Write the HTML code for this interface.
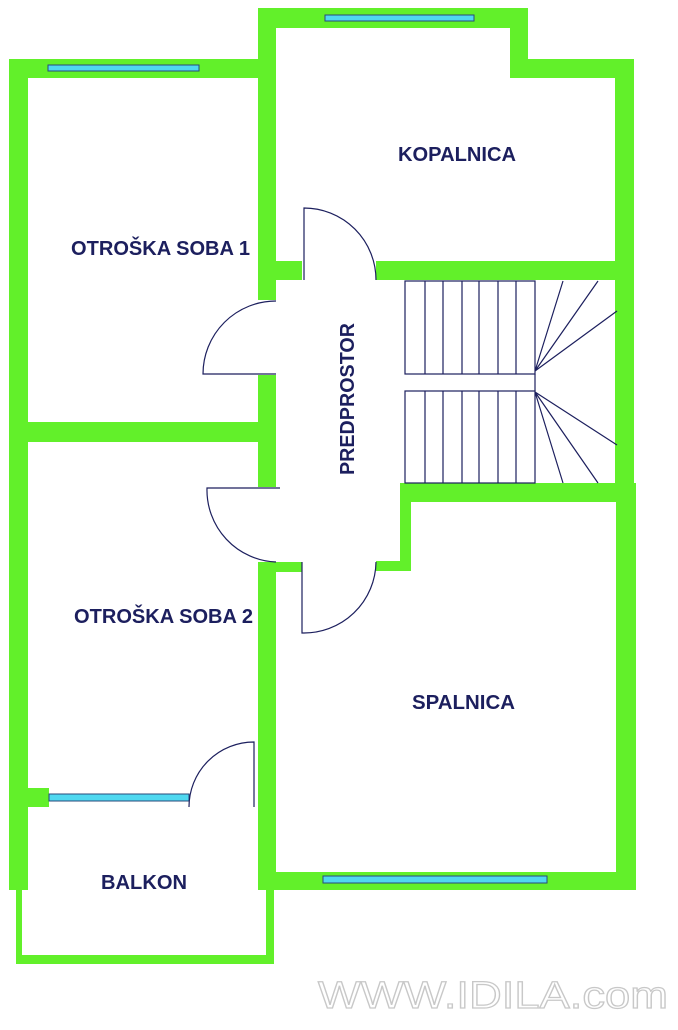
<!DOCTYPE html>
<html><head><meta charset="utf-8"><style>
html,body{margin:0;padding:0;background:#fff;}
svg{display:block;}
text{font-family:"Liberation Sans",sans-serif;font-weight:bold;fill:#1c1f5e;}
</style></head><body>
<svg width="678" height="1030" viewBox="0 0 678 1030" xmlns="http://www.w3.org/2000/svg">
<g fill="#62f02a">
<rect x="9" y="59" width="19" height="831"/>
<rect x="9" y="59" width="267" height="19"/>
<rect x="258" y="8" width="18" height="292"/>
<rect x="258" y="8" width="270" height="20"/>
<rect x="510" y="8" width="18" height="70"/>
<rect x="510" y="59" width="124" height="19"/>
<rect x="615" y="59" width="19" height="443"/>
<rect x="258" y="261" width="44" height="19"/>
<rect x="376" y="261" width="258" height="19"/>
<rect x="258" y="375" width="18" height="112"/>
<rect x="9" y="422" width="267" height="20"/>
<rect x="400" y="483" width="234" height="19"/>
<rect x="616" y="483" width="20" height="407"/>
<rect x="400" y="483" width="11" height="88"/>
<rect x="376" y="561" width="35" height="10"/>
<rect x="258" y="562" width="44" height="10"/>
<rect x="258" y="562" width="18" height="328"/>
<rect x="258" y="872" width="378" height="18"/>
<rect x="9" y="788" width="40" height="19"/>
<rect x="16" y="888" width="6" height="76"/>
<rect x="266" y="888" width="8" height="76"/>
<rect x="16" y="955" width="258" height="9"/>
</g>
<g fill="#4fd8f0" stroke="#2a4a7a" stroke-width="1">
<rect x="48" y="65" width="151" height="6"/>
<rect x="325" y="15" width="149" height="6"/>
<rect x="49" y="794" width="140" height="7"/>
<rect x="323" y="876" width="224" height="7"/>
</g>
<g fill="none" stroke="#1c1f5e" stroke-width="1.2">
<path d="M304 280 V208 A72 72 0 0 1 376 280"/>
<path d="M276 374 H203 A73 73 0 0 1 276 301"/>
<path d="M280 488 H207 A72 72 0 0 0 276 562"/>
<path d="M302 562 V633 A72 72 0 0 0 376 562"/>
<path d="M254 807 V742 A65 65 0 0 0 189 807"/>
</g>
<g fill="none" stroke="#1c1f5e" stroke-width="1.2">
<rect x="405" y="281" width="130" height="93"/>
<rect x="405" y="391" width="130" height="92"/>
<path d="M425 281V374M443 281V374M462 281V374M479 281V374M498 281V374M516 281V374"/>
<path d="M425 391V483M443 391V483M462 391V483M479 391V483M498 391V483M516 391V483"/>
<path d="M535 374V391"/>
<path d="M535 371L563 281M535 371L598 281M535 371L617 311"/>
<path d="M535 392L617 445M535 392L598 483M535 392L563 483"/>
</g>
<text x="398" y="161" font-size="20" textLength="118" lengthAdjust="spacingAndGlyphs">KOPALNICA</text>
<text x="71" y="255" font-size="20" textLength="179" lengthAdjust="spacingAndGlyphs">OTROŠKA SOBA 1</text>
<text x="74" y="623" font-size="20" textLength="179" lengthAdjust="spacingAndGlyphs">OTROŠKA SOBA 2</text>
<text x="412" y="709" font-size="20" textLength="103" lengthAdjust="spacingAndGlyphs">SPALNICA</text>
<text x="101" y="889" font-size="20" textLength="86" lengthAdjust="spacingAndGlyphs">BALKON</text>
<text x="-475" y="354" font-size="20" transform="rotate(-90)" textLength="152" lengthAdjust="spacingAndGlyphs">PREDPROSTOR</text>
<text x="318" y="1008" font-size="38" style="font-weight:normal;fill:none;stroke:#c8c8c8;stroke-width:1.2" textLength="350" lengthAdjust="spacingAndGlyphs">WWW.IDILA.com</text>
</svg>
</body></html>
